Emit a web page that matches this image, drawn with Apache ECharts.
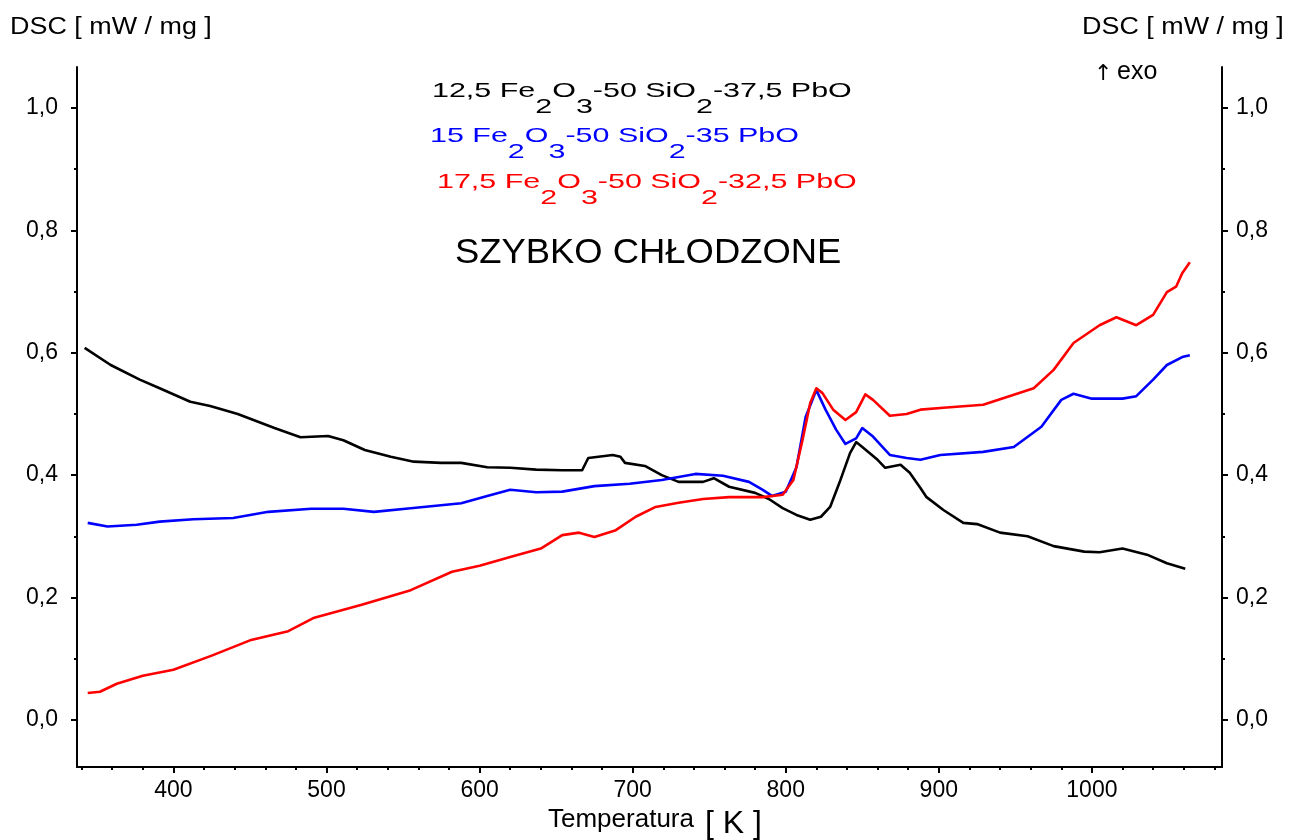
<!DOCTYPE html>
<html>
<head>
<meta charset="utf-8">
<script src="https://cdn.jsdelivr.net/npm/echarts@6/dist/echarts.min.js"></script>
<style>
html,body{margin:0;padding:0;background:#fff;}
#chart{width:1289px;height:840px;}
</style>
</head>
<body>
<div id="chart"></div>
<script>
// ---- data (temperature in K, DSC in mW/mg) ----
const blackT = [342,359,378,391,411,424,442,466,483,501,511,525,542,557,575,588,605,620,637,654,667,671,687,692,695,708,719,730,746,753,763,780,789,798,807,816,823,829,835,842,846,850,860,865,875,881,888,892,903,916,925,940,958,975,995,1005,1020,1036,1049,1061];
const blackV = [0.608,0.58,0.556,0.542,0.52,0.513,0.50,0.477,0.462,0.464,0.457,0.441,0.43,0.422,0.42,0.42,0.413,0.412,0.409,0.408,0.408,0.428,0.433,0.43,0.42,0.415,0.40,0.389,0.389,0.395,0.381,0.371,0.361,0.346,0.335,0.327,0.332,0.348,0.387,0.436,0.454,0.446,0.425,0.412,0.417,0.404,0.379,0.364,0.343,0.322,0.32,0.306,0.30,0.284,0.275,0.274,0.28,0.27,0.256,0.247];

const blueT = [344,357,376,391,413,439,462,490,511,531,555,588,605,620,637,654,675,698,719,741,759,776,785,791,800,807,813,820,826,833,839,846,850,857,868,879,888,901,929,949,967,980,988,1000,1020,1029,1040,1049,1059,1064];
const blueV = [0.322,0.316,0.319,0.324,0.328,0.33,0.34,0.345,0.345,0.34,0.346,0.354,0.366,0.376,0.372,0.373,0.382,0.386,0.392,0.402,0.399,0.389,0.376,0.366,0.373,0.413,0.495,0.539,0.507,0.474,0.451,0.46,0.477,0.463,0.433,0.428,0.425,0.433,0.438,0.446,0.479,0.523,0.533,0.525,0.525,0.529,0.556,0.58,0.593,0.596];

const redT = [344,352,363,380,400,425,450,475,492,523,555,582,600,620,640,654,665,675,689,702,715,730,746,763,785,798,805,811,816,820,824,831,839,846,852,857,868,879,888,903,929,945,962,975,988,1005,1016,1029,1040,1049,1055,1059,1064];
const redV = [0.044,0.046,0.059,0.072,0.082,0.105,0.13,0.145,0.167,0.188,0.212,0.242,0.252,0.266,0.28,0.302,0.306,0.299,0.31,0.332,0.348,0.355,0.361,0.364,0.364,0.368,0.392,0.458,0.518,0.542,0.534,0.507,0.49,0.503,0.532,0.523,0.497,0.5,0.507,0.51,0.515,0.528,0.542,0.572,0.616,0.645,0.658,0.645,0.662,0.699,0.708,0.73,0.748];

const xMajorTicks = [400,500,600,700,800,900,1000];
const xMinorTicks = [340,360,380,420,440,460,480,520,540,560,580,620,640,660,680,720,740,760,780,820,840,860,880,920,940,960,980,1020,1040,1060,1080];
const yMajorTicks = [0.0,0.2,0.4,0.6,0.8,1.0];
const yMinorTicks = [0.1,0.3,0.5,0.7,0.9];

const seriesNames = ['12,5 Fe2O3-50 SiO2-37,5 PbO','15 Fe2O3-50 SiO2-35 PbO','17,5 Fe2O3-50 SiO2-32,5 PbO'];
const seriesColors = ['#000000','#0000ff','#ff0000'];

// ---- chart ----
const FONT = '"Liberation Sans", Arial, sans-serif';
const X_MIN = 337, X_MAX = 1085, Y_MIN = -0.077, Y_MAX = 1.067;
const pair = (t, v) => t.map((x, i) => [x, v[i]]);
const fmt = v => Number(v).toFixed(1).replace('.', ',');

function yAxisDef(pos, ticks, len, labels) {
  return {
    type: 'value', position: pos, min: Y_MIN, max: Y_MAX,
    axisLine: { show: labels, onZero: false, lineStyle: { color: '#000', width: 2 } },
    axisTick: { show: true, inside: false, length: len, customValues: ticks, lineStyle: { color: '#000', width: 2 } },
    axisLabel: labels ? { show: true, customValues: ticks, formatter: fmt, color: '#000', fontSize: 23, fontFamily: FONT, margin: pos === 'left' ? 19 : 14 } : { show: false },
    splitLine: { show: false }
  };
}

const chart = echarts.init(document.getElementById('chart'), null, { renderer: 'canvas' });

const legendRich = (color) => ({
  n: { fontSize: 21, fontFamily: FONT, fill: color, lineHeight: 24, verticalAlign: 'top' },
  s: { fontSize: 21, fontFamily: FONT, fill: color, lineHeight: 24, verticalAlign: 'top', padding: [16, 0, 0, 0] }
});
const legendText = '{n|$A Fe}{s|2}{n|O}{s|3}{n|-50 SiO}{s|2}{n|-$B PbO}';
const legendParts = [['12,5','37,5'],['15','35'],['17,5','32,5']];
const legendPos = [[432, 81], [430, 126], [437, 172]];

const graphics = [];
legendParts.forEach((p, i) => {
  graphics.push({
    type: 'text', x: legendPos[i][0], y: legendPos[i][1], scaleX: 1.45, scaleY: 1,
    style: { text: legendText.replace('$A', p[0]).replace('$B', p[1]), rich: legendRich(seriesColors[i]), align: 'left', verticalAlign: 'top' }
  });
});
graphics.push(
  { type: 'text', x: 455, y: 253, scaleX: 1.04, style: { text: 'SZYBKO CHŁODZONE', fontSize: 35, fontFamily: FONT, fill: '#000', align: 'left', verticalAlign: 'middle' } },
  { type: 'text', x: 10, y: 28, scaleX: 1.17, style: { text: 'DSC [ mW / mg ]', fontSize: 23, fontFamily: FONT, fill: '#000', align: 'left', verticalAlign: 'middle' } },
  { type: 'text', x: 1082, y: 28, scaleX: 1.17, style: { text: 'DSC [ mW / mg ]', fontSize: 23, fontFamily: FONT, fill: '#000', align: 'left', verticalAlign: 'middle' } },
  { type: 'text', x: 1094, y: 74, style: { text: '↑', fontSize: 22, fontFamily: '"DejaVu Sans", ' + FONT, fill: '#000', align: 'left', verticalAlign: 'middle' } },
  { type: 'text', x: 1117, y: 72, style: { text: 'exo', fontSize: 25, fontFamily: FONT, fill: '#000', align: 'left', verticalAlign: 'middle' } },
  { type: 'text', x: 548, y: 820, style: { text: 'Temperatura', fontSize: 26, fontFamily: FONT, fill: '#000', align: 'left', verticalAlign: 'middle' } },
  { type: 'text', x: 705, y: 824, style: { text: '[ K ]', fontSize: 32, fontFamily: FONT, fill: '#000', align: 'left', verticalAlign: 'middle' } }
);

const option = {
  animation: false,
  backgroundColor: '#fff',
  grid: { left: 77, right: 67, top: 67, bottom: 73 },
  xAxis: [
    {
      type: 'value', min: X_MIN, max: X_MAX, position: 'bottom',
      axisLine: { show: true, onZero: false, lineStyle: { color: '#000', width: 2 } },
      axisTick: { show: true, length: 6, customValues: xMajorTicks, lineStyle: { color: '#000', width: 2 } },
      axisLabel: { show: true, customValues: xMajorTicks, formatter: v => String(v), color: '#000', fontSize: 23, fontFamily: FONT, margin: 12 },
      splitLine: { show: false }
    },
    {
      type: 'value', min: X_MIN, max: X_MAX, position: 'bottom',
      axisLine: { show: false, onZero: false },
      axisTick: { show: true, length: 3, customValues: xMinorTicks, lineStyle: { color: '#000', width: 2 } },
      axisLabel: { show: false },
      splitLine: { show: false }
    }
  ],
  yAxis: [
    yAxisDef('left', yMajorTicks, 6, true),
    yAxisDef('left', yMinorTicks, 3, false),
    yAxisDef('right', yMajorTicks, 6, true),
    yAxisDef('right', yMinorTicks, 3, false)
  ],
  series: [
    { name: seriesNames[0], type: 'line', data: pair(blackT, blackV) },
    { name: seriesNames[1], type: 'line', data: pair(blueT, blueV) },
    { name: seriesNames[2], type: 'line', data: pair(redT, redV) }
  ].map((s, i) => Object.assign(s, {
    xAxisIndex: 0, yAxisIndex: 0, showSymbol: false, symbol: 'none', smooth: false,
    lineStyle: { color: seriesColors[i], width: 2.6, join: 'round' }, itemStyle: { color: seriesColors[i] }
  })),
  graphic: graphics
};
chart.setOption(option);
</script>
</body>
</html>
